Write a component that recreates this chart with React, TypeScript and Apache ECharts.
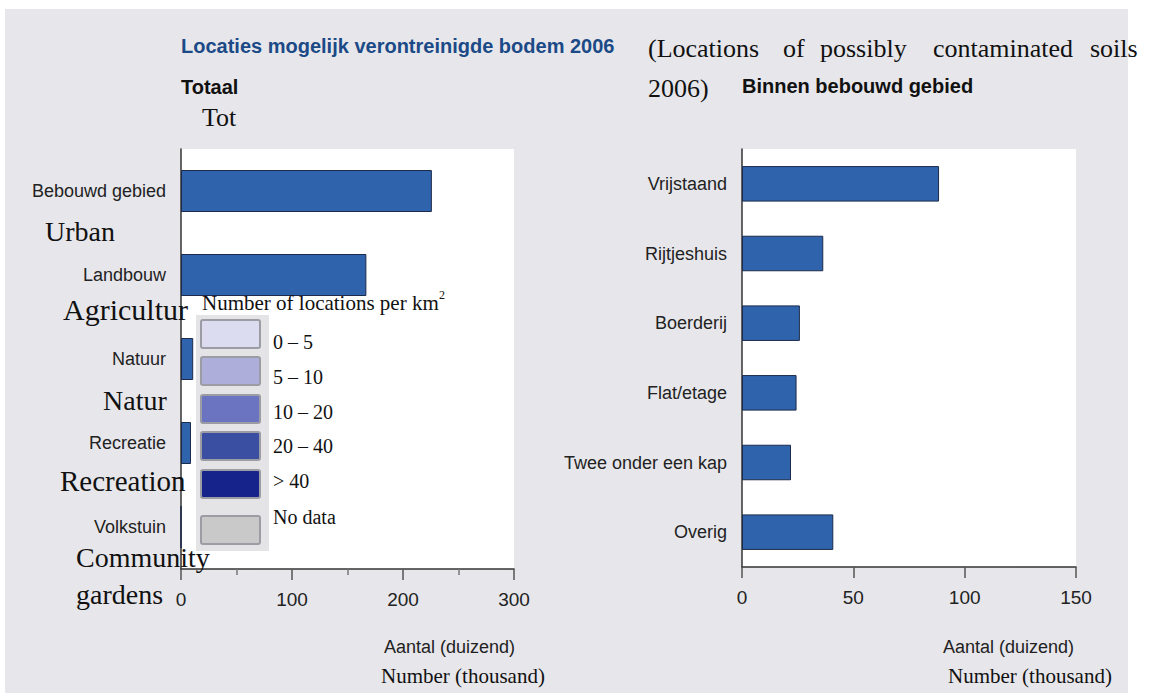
import React, { useEffect, useRef } from "react";
import * as echarts from "echarts";

const leftCategories = ["Bebouwd gebied", "Landbouw", "Natuur", "Recreatie", "Volkstuin"];
const leftValues = [226, 167, 11, 9, 0];
const leftTicks = [0, 100, 200, 300];

const rightCategories = ["Vrijstaand", "Rijtjeshuis", "Boerderij", "Flat/etage", "Twee onder een kap", "Overig"];
const rightValues = [88.5, 36.5, 26, 24.5, 22, 41];
const rightTicks = [0, 50, 100, 150];

const englishLabels = ["Urban", "Agricultur", "Natur", "Recreation", "Community", "gardens"];
const legendLabels = ["0 – 5", "5 – 10", "10 – 20", "20 – 40", "> 40", "No data"];
const legendColors = ["#dcdcf0", "#adaed9", "#6b74c0", "#3a4ea2", "#15238a", "#c9c9c9"];

const titleNl = "Locaties mogelijk verontreinigde bodem 2006";
const titleEnWords = ["(Locations", "of", "possibly", "contaminated", "soils"];
const axisNameNl = "Aantal (duizend)";
const axisNameEn = "Number (thousand)";

const serif = "'Liberation Serif','Times New Roman',serif";
const sans = "'Liberation Sans',Arial,Helvetica,sans-serif";

function txt(text: string, x: number, y: number, o: any = {}) {
  return {
    type: "text",
    x,
    y,
    z: o.z ?? 50,
    style: {
      text,
      fill: o.fill ?? "#111",
      fontSize: o.size ?? 18,
      fontFamily: o.family ?? sans,
      fontWeight: o.weight ?? "normal",
      align: o.align ?? "left",
      verticalAlign: "middle",
    },
  };
}

export default function App() {
  const ref = useRef<HTMLDivElement>(null);

  useEffect(() => {
    if (!ref.current) return;
    const chart = echarts.init(ref.current, null, { renderer: "svg" });

    const xAxisCommon = (max: number, interval: number) => ({
      type: "value",
      min: 0,
      max,
      interval,
      axisLine: { show: true, lineStyle: { color: "#333", width: 1.5 } },
      axisTick: { show: true, length: 11, lineStyle: { color: "#555", width: 1.5 } },
      minorTick: { show: max === 300, splitNumber: 2, length: 6, lineStyle: { color: "#777", width: 1.5 } },
      splitLine: { show: false },
      axisLabel: { fontSize: 19, color: "#222", fontFamily: sans, margin: 21 },
    });

    const yAxisCommon = (data: string[]) => ({
      type: "category",
      data,
      inverse: true,
      axisLine: { show: true, lineStyle: { color: "#333", width: 1.5 } },
      axisTick: { show: false },
      axisLabel: { fontSize: 18, color: "#222", fontFamily: sans, margin: 15 },
    });

    const barStyle = { color: "#2f64ad", borderColor: "#1d2b4a", borderWidth: 1 };

    const graphics: any[] = [];
    graphics.push(txt(titleNl, 181, 46, { size: 20, weight: "bold", fill: "#1b4a87" }));
    const wordX = [648, 783, 820, 933, 1090];
    titleEnWords.forEach((w, i) => graphics.push(txt(w, wordX[i], 48, { size: 26, family: serif })));
    graphics.push(txt("2006)", 648, 88, { size: 26, family: serif }));
    graphics.push(txt("Totaal", 181, 87, { size: 20, weight: "bold" }));
    graphics.push(txt("Tot", 202, 117, { size: 26, family: serif }));
    graphics.push(txt("Binnen bebouwd gebied", 742, 86, { size: 20, weight: "bold" }));

    const enPos = [
      [45, 231, 28],
      [63, 309, 30],
      [103, 400, 28],
      [60, 481, 29],
      [76, 557, 28],
      [76, 594, 28],
    ];
    englishLabels.forEach((l, i) =>
      graphics.push(txt(l, enPos[i][0], enPos[i][1], { size: enPos[i][2], family: serif, z: 60 }))
    );

    graphics.push(txt(axisNameNl, 515, 647, { size: 18, align: "right", fill: "#222" }));
    graphics.push(txt(axisNameEn, 381, 676, { size: 21, family: serif }));
    graphics.push(txt(axisNameNl, 1074, 647, { size: 18, align: "right", fill: "#222" }));
    graphics.push(txt(axisNameEn, 948, 676, { size: 21, family: serif }));

    // legend overlay
    graphics.push({
      type: "rect",
      z: 55,
      shape: { x: 196, y: 315, width: 73, height: 236 },
      style: { fill: "#e4e4e6" },
    });
    const swY = [320, 357, 395, 432, 470, 516];
    const lbY = [342, 377, 412, 446, 481, 517];
    legendColors.forEach((c, i) => {
      graphics.push({
        type: "rect",
        z: 56,
        shape: { x: 201, y: swY[i], width: 59, height: 28, r: 2 },
        style: { fill: c, stroke: "#9c9ca4", lineWidth: 2 },
      });
      graphics.push(txt(legendLabels[i], 273, lbY[i], { size: 20, family: serif, z: 57 }));
    });
    graphics.push(txt("Number of locations per km", 202, 303, { size: 21, family: serif, z: 57 }));
    graphics.push(txt("2", 439, 295, { size: 12, family: serif, z: 57 }));

    chart.setOption({
      animation: false,
      grid: [
        { left: 181, top: 149, width: 333, height: 420, show: true, backgroundColor: "#ffffff", borderWidth: 0 },
        { left: 742, top: 149, width: 334, height: 418, show: true, backgroundColor: "#ffffff", borderWidth: 0 },
      ],
      xAxis: [
        { ...xAxisCommon(leftTicks[leftTicks.length - 1], leftTicks[1] - leftTicks[0]), gridIndex: 0 },
        { ...xAxisCommon(rightTicks[rightTicks.length - 1], rightTicks[1] - rightTicks[0]), gridIndex: 1 },
      ],
      yAxis: [
        { ...yAxisCommon(leftCategories), gridIndex: 0 },
        { ...yAxisCommon(rightCategories), gridIndex: 1 },
      ],
      series: [
        { type: "bar", xAxisIndex: 0, yAxisIndex: 0, data: leftValues, barWidth: "50%", itemStyle: barStyle },
        { type: "bar", xAxisIndex: 1, yAxisIndex: 1, data: rightValues, barWidth: "51%", itemStyle: barStyle },
      ],
      graphic: graphics,
    });

    return () => chart.dispose();
  }, []);

  return (
    <div style={{ position: "fixed", left: 0, top: 0, width: 1153, height: 693, background: "#ffffff" }}>
      <div style={{ position: "absolute", left: 5, top: 9, width: 1123, height: 684, background: "#e7e7eb" }} />
      <div ref={ref} style={{ position: "absolute", left: 0, top: 0, width: 1153, height: 693 }} />
    </div>
  );
}
